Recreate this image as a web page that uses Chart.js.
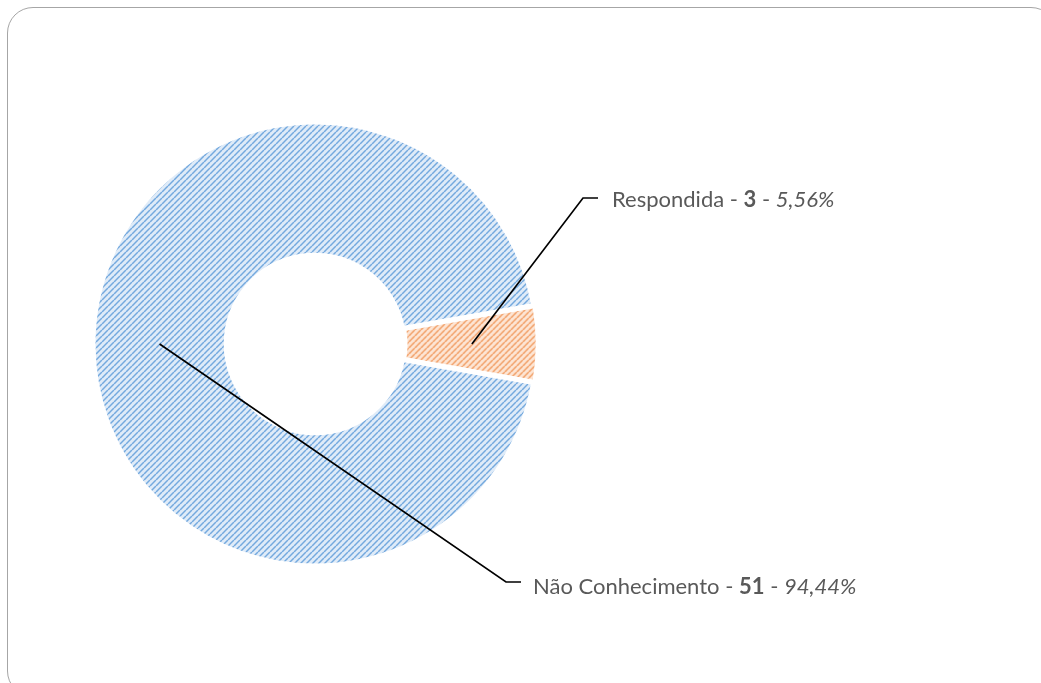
<!DOCTYPE html>
<html>
<head>
<meta charset="utf-8">
<script src="https://cdn.jsdelivr.net/npm/chart.js@4.4.1/dist/chart.umd.min.js"></script>
<style>
  html, body { margin: 0; padding: 0; background: #ffffff; overflow: hidden; }
  #frame { position: absolute; left: 7px; top: 7px; width: 1050px; height: 690px;
           border: 1.3px solid #a6a6a6; border-radius: 26px; box-sizing: border-box; }
  #c { position: absolute; left: 0; top: 0; }
</style>
</head>
<body>
<div id="frame"></div>
<canvas id="c" width="1041" height="683"></canvas>
<script>
// ---- data ----
const categories = ['Respondida', 'Não Conhecimento'];
const counts = [3, 51];
const percentLabels = ['5,56%', '94,44%'];

function makePattern(bg, fg) {
  const s = 6;
  const t = document.createElement('canvas');
  t.width = s; t.height = s;
  const g = t.getContext('2d');
  g.fillStyle = bg; g.fillRect(0, 0, s, s);
  g.strokeStyle = fg; g.lineWidth = 1.5;
  for (let k = -1; k <= 1; k++) {
    g.beginPath();
    g.moveTo(k * s, s);
    g.lineTo(k * s + s, 0);
    g.stroke();
  }
  return g.createPattern(t, 'repeat');
}

const ctx0 = document.getElementById('c').getContext('2d');
const fills = [makePattern('#fde5d4', '#f2a068'), makePattern('#dfebf8', '#74a9de')];

const labelAnchors = [
  { elbow: [583, 198], end: [598, 198], text: [612, 200] },
  { elbow: [506, 582], end: [521, 582], text: [533, 587] }
];
const FONT = 'Lato';
const FS = 22;

const leaderPlugin = {
  id: 'leaders',
  afterDatasetsDraw(chart) {
    const ctx = chart.ctx;
    const meta = chart.getDatasetMeta(0);
    ctx.save();
    meta.data.forEach((arc, i) => {
      const p = arc.tooltipPosition();
      const a = labelAnchors[i];
      ctx.strokeStyle = '#000000';
      ctx.lineWidth = 1.7;
      ctx.beginPath();
      ctx.moveTo(p.x, p.y);
      ctx.lineTo(a.elbow[0], a.elbow[1]);
      ctx.lineTo(a.end[0], a.end[1]);
      ctx.stroke();
      const parts = [
        { t: categories[i] + ' - ', f: `${FS}px "${FONT}"` },
        { t: String(counts[i]), f: `bold ${FS}px "${FONT}"` },
        { t: ' - ', f: `${FS}px "${FONT}"` },
        { t: percentLabels[i], f: `italic ${FS}px "${FONT}"` }
      ];
      let x = a.text[0];
      ctx.fillStyle = '#595959';
      ctx.textBaseline = 'middle';
      ctx.textAlign = 'left';
      parts.forEach(pt => {
        ctx.font = pt.f;
        ctx.fillText(pt.t, x, a.text[1]);
        x += ctx.measureText(pt.t).width;
      });
    });
    ctx.restore();
  }
};

new Chart(ctx0, {
  type: 'doughnut',
  data: {
    labels: categories,
    datasets: [{
      data: counts,
      backgroundColor: fills,
      borderColor: '#ffffff',
      borderWidth: 5,
      hoverOffset: 0,
      offset: [3, 0]
    }]
  },
  options: {
    responsive: false,
    animation: false,
    rotation: 80,
    cutout: '40%',
    layout: { padding: { left: 89, right: 500, top: 117, bottom: 112 } },
    plugins: {
      legend: { display: false },
      tooltip: { enabled: false }
    },
    events: []
  },
  plugins: [leaderPlugin]
});
</script>
</body>
</html>
